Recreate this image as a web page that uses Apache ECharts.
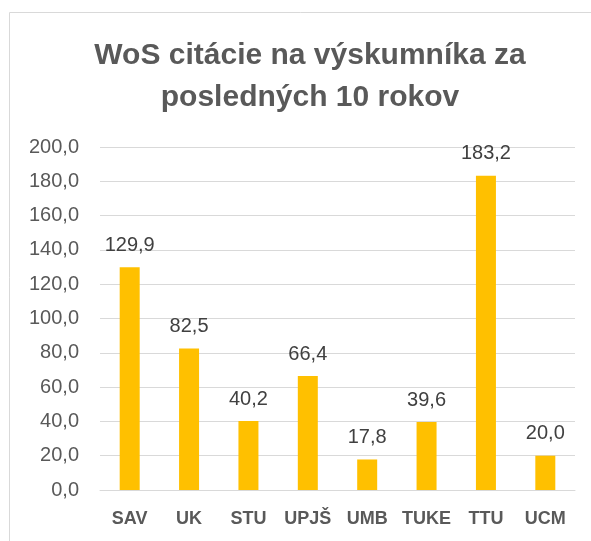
<!DOCTYPE html>
<html>
<head>
<meta charset="utf-8">
<script src="https://cdn.jsdelivr.net/npm/echarts@6/dist/echarts.min.js"></script>
<style>
  html, body { margin: 0; padding: 0; background: #fff; }
  #chart { width: 591px; height: 541px; }
</style>
</head>
<body>
<div id="chart"></div>
<script>
const categories = ['SAV', 'UK', 'STU', 'UPJŠ', 'UMB', 'TUKE', 'TTU', 'UCM']
const values = [129.9, 82.5, 40.2, 66.4, 17.8, 39.6, 183.2, 20.0]
const yMin = 0
const yMax = 200
const yStep = 20

const fmt = (v) => Number(v).toFixed(1).replace('.', ',')

const chart = echarts.init(document.getElementById('chart'))
const options = {
  animation: false,
  textStyle: { fontFamily: 'Liberation Sans' },
  graphic: [
    {
      type: 'rect',
      shape: { x: 9.5, y: 12.5, width: 600, height: 560 },
      style: { fill: 'none', stroke: '#d9d9d9', lineWidth: 1 }
    }
  ],
  title: {
    text: 'WoS citácie na výskumníka za\nposledných 10 rokov',
    left: 305,
    textAlign: 'center',
    top: 30,
    textStyle: {
      fontFamily: 'Liberation Sans',
      fontSize: 30,
      fontWeight: 'bold',
      color: '#595959',
      lineHeight: 42
    }
  },
  grid: {
    left: 100,
    right: 16,
    top: 147,
    bottom: 51
  },
  xAxis: {
    type: 'category',
    data: categories,
    axisTick: { show: false },
    axisLine: { lineStyle: { color: '#d9d9d9', width: 1 } },
    axisLabel: {
      interval: 0,
      color: '#595959',
      fontSize: 18,
      fontWeight: 'bold',
      margin: 20
    }
  },
  yAxis: {
    type: 'value',
    min: yMin,
    max: yMax,
    interval: yStep,
    axisLine: { show: false },
    axisTick: { show: false },
    splitLine: { lineStyle: { color: '#d9d9d9', width: 1 } },
    axisLabel: {
      color: '#595959',
      fontSize: 20,
      margin: 21,
      formatter: (v) => fmt(v)
    }
  },
  series: [
    {
      type: 'bar',
      data: values,
      barWidth: 20,
      itemStyle: { color: '#ffc000' },
      label: {
        show: true,
        position: 'top',
        distance: 12,
        color: '#404040',
        fontSize: 20,
        formatter: (p) => fmt(p.value)
      }
    }
  ]
}
chart.setOption(options)
</script>
</body>
</html>
